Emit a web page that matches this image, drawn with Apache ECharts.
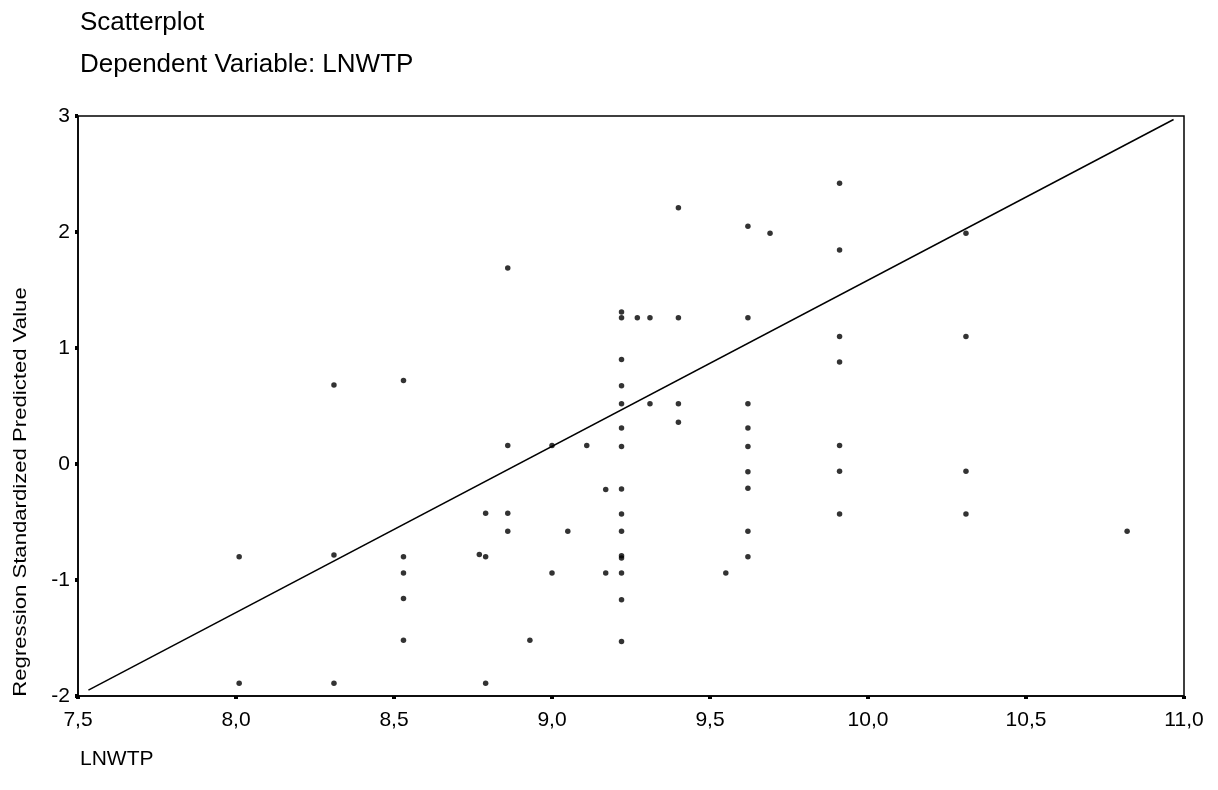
<!DOCTYPE html>
<html>
<head>
<meta charset="utf-8">
<script src="https://cdn.jsdelivr.net/npm/echarts@6/dist/echarts.min.js"></script>
<style>
  html, body { margin: 0; padding: 0; background: #fff; }
  #chart { width: 1218px; height: 790px; }
</style>
</head>
<body>
<div id="chart"></div>
<script>
// LNWTP (x) and regression standardized predicted value (y)
var lnwtp = [
  8.01, 8.01,
  8.31, 8.31, 8.31,
  8.53, 8.53, 8.53, 8.53, 8.53,
  8.77,
  8.79, 8.79, 8.79,
  8.86, 8.86, 8.86, 8.86,
  8.93,
  9.00, 9.00,
  9.05,
  9.11,
  9.17, 9.17,
  9.22, 9.22, 9.22, 9.22, 9.22, 9.22, 9.22, 9.22, 9.22, 9.22, 9.22, 9.22, 9.22, 9.22, 9.22,
  9.27,
  9.31, 9.31,
  9.40, 9.40, 9.40, 9.40,
  9.55,
  9.62, 9.62, 9.62, 9.62, 9.62, 9.62, 9.62, 9.62, 9.62,
  9.69,
  9.91, 9.91, 9.91, 9.91, 9.91, 9.91, 9.91,
  10.31, 10.31, 10.31, 10.31,
  10.82
];
var predicted = [
  -0.80, -1.89,
  0.68, -0.785, -1.89,
  0.72, -0.80, -0.94, -1.16, -1.52,
  -0.78,
  -0.425, -0.80, -1.89,
  1.69, 0.16, -0.425, -0.58,
  -1.52,
  0.16, -0.94,
  -0.58,
  0.16,
  -0.22, -0.94,
  1.31, 1.26, 0.90, 0.675, 0.52, 0.31, 0.15, -0.215, -0.43, -0.58, -0.79, -0.81, -0.94, -1.17, -1.53,
  1.26,
  1.26, 0.52,
  2.21, 1.26, 0.52, 0.36,
  -0.94,
  2.05, 1.26, 0.52, 0.31, 0.15, -0.066, -0.21, -0.58, -0.80,
  1.99,
  2.42, 1.845, 1.10, 0.88, 0.16, -0.063, -0.43,
  1.99, 1.10, -0.063, -0.43,
  -0.58
];
var fitLineX = [7.533, 10.967];
var fitLineY = [-1.95, 2.97];

var points = lnwtp.map(function (x, i) { return [x, predicted[i]]; });
var fitLine = fitLineX.map(function (x, i) { return [x, fitLineY[i]]; });

var font = '"Liberation Sans", Arial, sans-serif';
var chart = echarts.init(document.getElementById('chart'), null, { renderer: 'canvas' });

chart.setOption({
  animation: false,
  backgroundColor: '#fff',
  grid: {
    left: 78, right: 34, top: 116, bottom: 94,
    show: true, borderColor: '#000', borderWidth: 1.5
  },
  xAxis: {
    type: 'value', min: 7.5, max: 11, interval: 0.5,
    axisLine: { show: true, onZero: false, lineStyle: { color: '#000', width: 1.5 } },
    axisTick: { show: true, length: 3, lineStyle: { color: '#000', width: 4 } },
    splitLine: { show: false },
    axisLabel: {
      margin: 14, color: '#000', fontSize: 21, fontFamily: font,
      formatter: function (v) { return v.toFixed(1).replace('.', ','); }
    }
  },
  yAxis: {
    type: 'value', min: -2, max: 3, interval: 1,
    axisLine: { show: true, onZero: false, lineStyle: { color: '#000', width: 1.5 } },
    axisTick: { show: true, length: 3, lineStyle: { color: '#000', width: 4 } },
    splitLine: { show: false },
    axisLabel: { margin: 8, color: '#000', fontSize: 21, fontFamily: font }
  },
  graphic: [
    { type: 'text', left: 80, top: 10, style: { text: 'Scatterplot', font: '26px ' + font, fill: '#000' } },
    { type: 'text', left: 80, top: 52, style: { text: 'Dependent Variable: LNWTP', font: '26px ' + font, fill: '#000' } },
    { type: 'text', left: 80, top: 749, style: { text: 'LNWTP', font: '21px ' + font, fill: '#000' } },
    {
      type: 'text', x: 21, y: 492, rotation: Math.PI / 2, scaleX: 1.23,
      style: {
        text: 'Regression Standardized Predicted Value', font: '18px ' + font,
        fill: '#000', align: 'center', verticalAlign: 'middle'
      }
    }
  ],
  series: [
    {
      type: 'line', data: fitLine, showSymbol: false, symbol: 'none',
      lineStyle: { color: '#000', width: 1.5 }, z: 2
    },
    {
      type: 'scatter', data: points, symbol: 'circle', symbolSize: 5.5,
      itemStyle: { color: '#000' }, z: 3
    }
  ]
});
</script>
</body>
</html>
